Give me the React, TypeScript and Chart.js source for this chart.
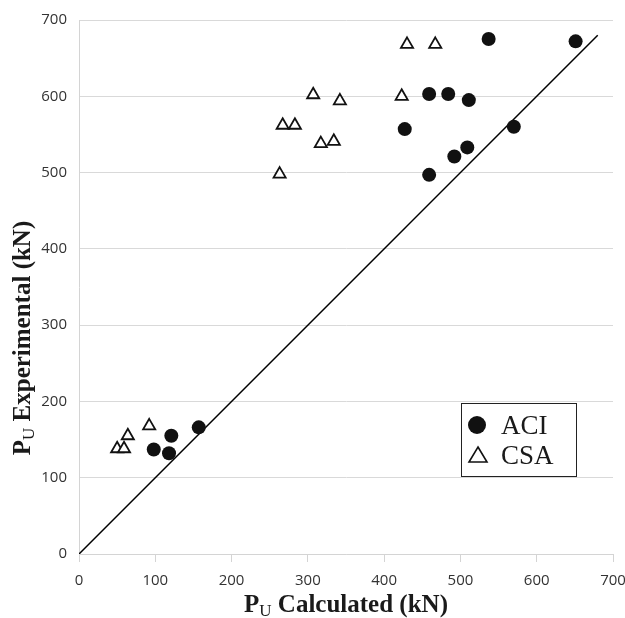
import React, { useEffect, useRef } from "react";
import { Chart, registerables } from "chart.js";

Chart.register(...registerables);

const aciX = [537, 651, 459, 484, 511, 427, 570, 509, 492, 459, 121, 98, 118, 157];
const aciY = [675, 672, 603, 603, 595, 557, 560, 533, 521, 497, 155, 137, 132, 166];
const csaX = [430, 467, 307, 342, 423, 267, 283, 317, 334, 263, 50, 59, 64, 92];
const csaY = [668, 668, 602, 594, 600, 562, 562, 538, 541, 498, 138, 138, 155, 168];
const lineX = [0, 680];
const lineY = [0, 680];
const seriesNames = ["ACI", "CSA"];
const xTitle = ["P", "U", " Calculated (kN)"];
const yTitle = ["P", "U", " Experimental (kN)"];

const SERIF = '"Liberation Serif", "Times New Roman", serif';
const SANS = '"Open Sans", "Liberation Sans", sans-serif';

function drawSubTitle(ctx: CanvasRenderingContext2D, parts: string[], cx: number, cy: number, rotate: boolean) {
  ctx.save();
  ctx.translate(cx, cy);
  if (rotate) ctx.rotate(-Math.PI / 2);
  const big = `bold 25px ${SERIF}`;
  const small = `17px ${SERIF}`;
  ctx.font = big;
  const w0 = ctx.measureText(parts[0]).width;
  const w2 = ctx.measureText(parts[2]).width;
  ctx.font = small;
  const w1 = ctx.measureText(parts[1]).width;
  const total = w0 + w1 + w2;
  let x = -total / 2;
  ctx.fillStyle = "#1a1a1a";
  ctx.textBaseline = "alphabetic";
  ctx.textAlign = "left";
  ctx.font = big;
  ctx.fillText(parts[0], x, 8);
  x += w0;
  ctx.font = small;
  ctx.fillText(parts[1], x, 12);
  x += w1;
  ctx.font = big;
  ctx.fillText(parts[2], x, 8);
  ctx.restore();
}

const overlayPlugin = {
  id: "overlay",
  afterDraw(chart: any) {
    const ctx: CanvasRenderingContext2D = chart.ctx;
    const ca = chart.chartArea;
    drawSubTitle(ctx, xTitle, (ca.left + ca.right) / 2, 604, false);
    drawSubTitle(ctx, yTitle, 22, 338, true);
    const bx = 461, by = 403, bw = 115, bh = 73;
    ctx.save();
    ctx.fillStyle = "#ffffff";
    ctx.fillRect(bx, by, bw, bh);
    ctx.strokeStyle = "#222";
    ctx.lineWidth = 1;
    ctx.strokeRect(bx + 0.5, by + 0.5, bw, bh);
    ctx.fillStyle = "#111";
    ctx.beginPath();
    ctx.arc(477, 425, 9, 0, Math.PI * 2);
    ctx.fill();
    ctx.strokeStyle = "#111";
    ctx.lineWidth = 1.6;
    ctx.fillStyle = "#fff";
    ctx.beginPath();
    ctx.moveTo(478, 447);
    ctx.lineTo(487, 462);
    ctx.lineTo(469, 462);
    ctx.closePath();
    ctx.fill();
    ctx.stroke();
    ctx.fillStyle = "#1a1a1a";
    ctx.font = `27px ${SERIF}`;
    ctx.textAlign = "left";
    ctx.textBaseline = "alphabetic";
    ctx.fillText(seriesNames[0], 501, 434);
    ctx.fillText(seriesNames[1], 501, 464);
    ctx.restore();
  },
};

export default function App() {
  const ref = useRef<HTMLCanvasElement | null>(null);
  useEffect(() => {
    document.body.style.margin = "0";
    const canvas = ref.current!;
    const chart = new Chart(canvas, {
      type: "scatter",
      data: {
        datasets: [
          {
            label: seriesNames[0],
            data: aciX.map((x, i) => ({ x, y: aciY[i] })),
            pointStyle: "circle",
            pointRadius: 7,
            backgroundColor: "#111",
            borderColor: "#111",
            borderWidth: 0,
            order: 1,
          },
          {
            label: seriesNames[1],
            data: csaX.map((x, i) => ({ x, y: csaY[i] })),
            pointStyle: "triangle",
            pointRadius: 7,
            backgroundColor: "#fff",
            borderColor: "#111",
            borderWidth: 1.8,
            order: 2,
          },
          {
            label: "line",
            data: lineX.map((x, i) => ({ x, y: lineY[i] })),
            showLine: true,
            pointRadius: 0,
            borderColor: "#000",
            borderWidth: 1.5,
            order: 10,
          } as any,
        ],
      },
      options: {
        animation: false,
        responsive: false,
        maintainAspectRatio: false,
        layout: { padding: { top: 20, right: 12, left: 0, bottom: 0 } },
        plugins: { legend: { display: false }, tooltip: { enabled: false } },
        scales: {
          x: {
            type: "linear",
            min: 0,
            max: 700,
            ticks: { stepSize: 100, color: "#333", font: { family: SANS, size: 15 }, padding: 10 },
            grid: { display: true, drawOnChartArea: false, drawTicks: true, tickLength: 8, color: "#d4d4d4" },
            border: { display: true, color: "#d4d4d4", width: 1 },
            afterFit: (s: any) => { s.height = 64; s.paddingRight = 0; s.paddingLeft = 0; },
          },
          y: {
            type: "linear",
            min: 0,
            max: 700,
            ticks: { stepSize: 100, color: "#333", font: { family: SANS, size: 15 }, padding: 12 },
            grid: { color: "#d9d9d9", drawTicks: false, lineWidth: 1 },
            border: { display: true, color: "#d4d4d4", width: 1 },
            afterFit: (s: any) => { s.width = 79; s.paddingTop = 0; s.paddingBottom = 0; },
          },
        },
      },
      plugins: [overlayPlugin],
    });
    return () => chart.destroy();
  }, []);
  return (
    <div style={{ width: 625, height: 618 }}>
      <canvas ref={ref} width={625} height={618} style={{ display: "block" }} />
    </div>
  );
}
